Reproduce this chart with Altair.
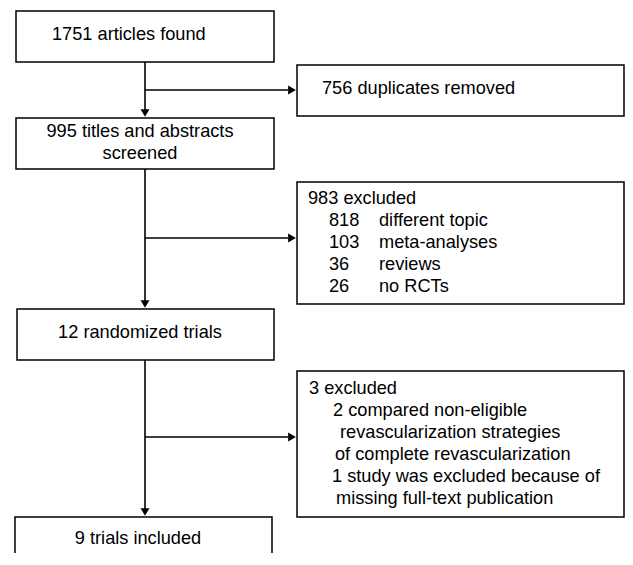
import altair as alt
import pandas as pd

# ---- content (text) ----
main_texts = [
    ["1751 articles found"],
    ["995 titles and abstracts", "screened"],
    ["12 randomized trials"],
    ["9 trials included"],
]
side_texts = [
    ["756 duplicates removed"],
    ["983 excluded"],
    ["3 excluded", "2 compared non-eligible", "revascularization strategies",
     "of complete revascularization", "1 study was excluded because of",
     "missing full-text publication"],
]
excl_counts = ["818", "103", "36", "26"]
excl_reasons = ["different topic", "meta-analyses", "reviews", "no RCTs"]

# ---- layout (screen pixels) ----
OFF = 8
W, H = 617, 545
FONT = "Liberation Sans"
FS = 18.2

boxes = pd.DataFrame({
    "x":  [16, 16, 17, 15, 297, 297, 297],
    "x2": [274, 274, 274, 272, 624, 624, 624],
    "y":  [11, 118, 309, 517, 65, 182, 371],
    "y2": [62, 169, 360, 600, 116, 304, 517],
})

# text rows: (text, x, y, align)
rows = []
rows.append((main_texts[0][0], 52, 35, "left"))
rows.append((main_texts[1][0], 140, 132, "center"))
rows.append((main_texts[1][1], 140, 154, "center"))
rows.append((main_texts[2][0], 140, 333, "center"))
rows.append((main_texts[3][0], 138, 539, "center"))
rows.append((side_texts[0][0], 322, 89, "left"))
rows.append((side_texts[1][0], 308, 199, "left"))
for i, (c, r) in enumerate(zip(excl_counts, excl_reasons)):
    rows.append((c, 329, 221 + 22 * i, "left"))
    rows.append((r, 379, 221 + 22 * i, "left"))
third_x = [309, 333, 340, 335, 332, 336]
third_y = [389, 411, 433, 455, 477, 499]
for t, xx, yy in zip(side_texts[2], third_x, third_y):
    rows.append((t, xx, yy, "left"))
texts = pd.DataFrame(rows, columns=["text", "x", "y", "align"])

lines = pd.DataFrame({
    "x":  [145, 145, 145, 145, 145, 145],
    "x2": [145, 145, 145, 288, 288, 288],
    "y":  [62, 169, 360, 90, 238, 437],
    "y2": [110, 301, 509, 90, 238, 437],
})
heads = pd.DataFrame({
    "x": [145, 145, 145, 292, 292, 292],
    "y": [113, 304, 512, 90, 238, 437],
    "shape": ["triangle-down"] * 3 + ["triangle-right"] * 3,
})

xs = alt.Scale(domain=[OFF, OFF + W], range=[0, W], nice=False, zero=False)
ys = alt.Scale(domain=[OFF, OFF + H], range=[0, H], nice=False, zero=False)

def X(f):
    return alt.X(f, type="quantitative", scale=xs, axis=None)

def Y(f):
    return alt.Y(f, type="quantitative", scale=ys, axis=None)

rect = alt.Chart(boxes).mark_rect(fill="white", stroke="black", strokeWidth=1.5, clip=True).encode(
    x=X("x"), x2="x2", y=Y("y"), y2="y2")

rule = alt.Chart(lines).mark_rule(color="black", strokeWidth=1.6).encode(
    x=X("x"), x2="x2", y=Y("y"), y2="y2")

head = alt.Chart(heads).mark_point(filled=True, color="black", size=80, opacity=1).encode(
    x=X("x"), y=Y("y"),
    shape=alt.Shape("shape:N", scale=None))

txt_left = alt.Chart(texts[texts["align"] == "left"]).mark_text(
    font=FONT, fontSize=FS, color="black", align="left", baseline="middle").encode(
    x=X("x"), y=Y("y"), text="text:N")
txt_center = alt.Chart(texts[texts["align"] == "center"]).mark_text(
    font=FONT, fontSize=FS, color="black", align="center", baseline="middle").encode(
    x=X("x"), y=Y("y"), text="text:N")

chart = alt.layer(rule, head, rect, txt_left, txt_center).properties(
    width=W, height=H, padding=0, autosize=alt.AutoSizeParams(type="none")
).configure_view(stroke=None)

chart.save("out.html", embed_options={"renderer": "svg", "actions": False})
